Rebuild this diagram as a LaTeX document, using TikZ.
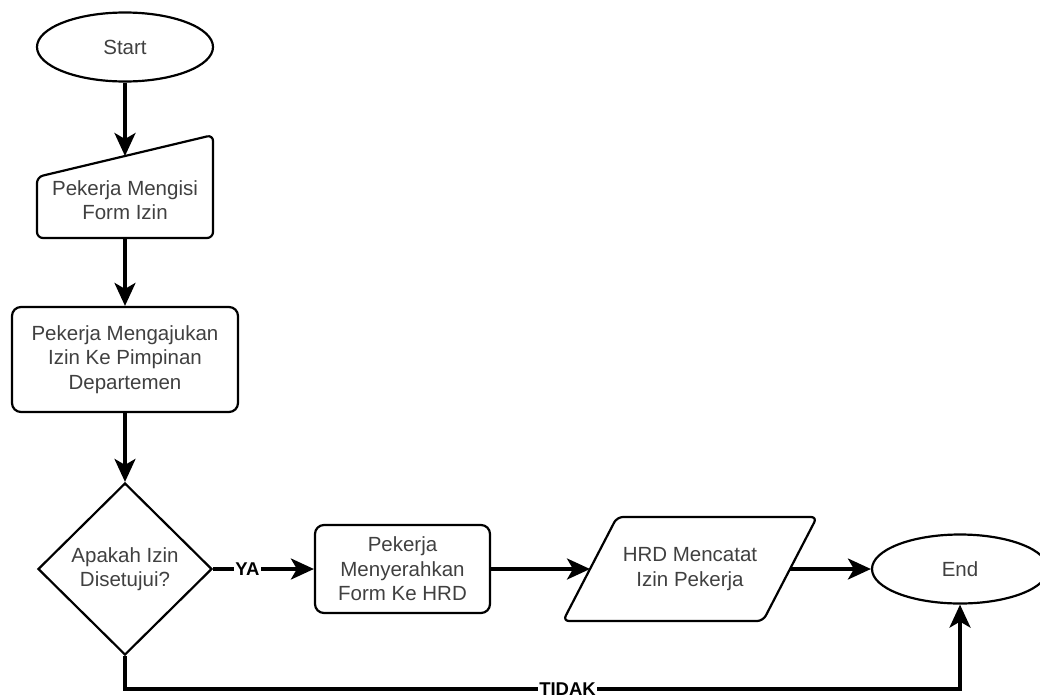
\documentclass[tikz,border=0pt]{standalone}
\usepackage{fontspec}
\setmainfont{Liberation Sans}
\usepackage{xcolor}
\usepackage{tikz}
\usetikzlibrary{arrows.meta,positioning,shapes.geometric,calc}

\begin{document}
\begin{tikzpicture}[x=1pt, y=-1pt,
  font=\fontsize{20.5}{24.5}\selectfont, text=black!75,
  >={Stealth[length=23pt, width=21pt, inset=6pt]},
  term/.style={draw, ellipse, line width=2.2pt, minimum width=176pt, minimum height=69pt, inner sep=0pt},
  proc/.style={draw, rounded corners=9pt, line width=2.2pt, align=center, inner sep=0pt, minimum width=#1},
  proc/.default=226pt,
  ghost/.style={inner sep=0pt, outer sep=0pt, align=center},
  flow/.style={->, line width=3.4pt, draw=black},
  lbl/.style={fill=white, inner sep=1.5pt, text=black, font=\fontsize{18.5}{18.5}\bfseries}]
\useasboundingbox (0,0) rectangle (1040,699);
% start / end
\node[term] (start) at (125,47) {Start};
\node[term] (finish) at (960,569) {End};
% manual input
\node[ghost, minimum width=176pt, minimum height=103pt] (input) at (125,186.5) {};
\node[ghost] (inputtxt) at (125,200) {Pekerja Mengisi\\Form Izin};
\draw[line width=2.2pt, rounded corners=6pt] (input.south west) -- (input.south east) -- (input.north east)
  -- ($(input.north west)+(0,42)$) -- cycle;
\coordinate (inTop) at ($(input.north)+(0,21)$);
% processes
\node[proc, minimum height=105pt] (dept) at (125,359.5) {Pekerja Mengajukan\\Izin Ke Pimpinan\\Departemen};
\node[draw, diamond, line width=2.2pt, minimum width=174pt, minimum height=172pt, inner sep=0pt, align=center] (decide) at (125,569) {Apakah Izin\\Disetujui?};
\node[proc=175pt, minimum height=88pt] (hand) at (402.5,569) {Pekerja\\Menyerahkan\\Form Ke HRD};
% data (parallelogram)
\node[ghost, minimum width=200pt, minimum height=104pt] (record) at (690,569) {HRD Mencatat\\Izin Pekerja};
\draw[line width=2.2pt, rounded corners=6pt] ($(record.north west)+(27,0)$) -- ($(record.north east)+(27,0)$)
  -- ($(record.south east)+(-27,0)$) -- ($(record.south west)+(-27,0)$) -- cycle;
% connectors
\draw[flow] (start) -- (inTop);
\foreach \a/\b in {input.south/dept.north, dept.south/decide.north}
  \draw[flow] (\a) -- (\b);
\draw[flow] (decide.east) -- node[lbl, pos=0.34] (ya) {YA} (hand.west);
\draw[flow] (hand.east) -- (record.west);
\draw[flow] (record.east) -- (finish.west);
\coordinate (low) at (0,689);
\draw[flow] (decide.south) -- (decide.south |- low) -- node[lbl, pos=0.53] (tidak) {TIDAK} (finish.south |- low) -- (finish.south);
\end{tikzpicture}
\end{document}
